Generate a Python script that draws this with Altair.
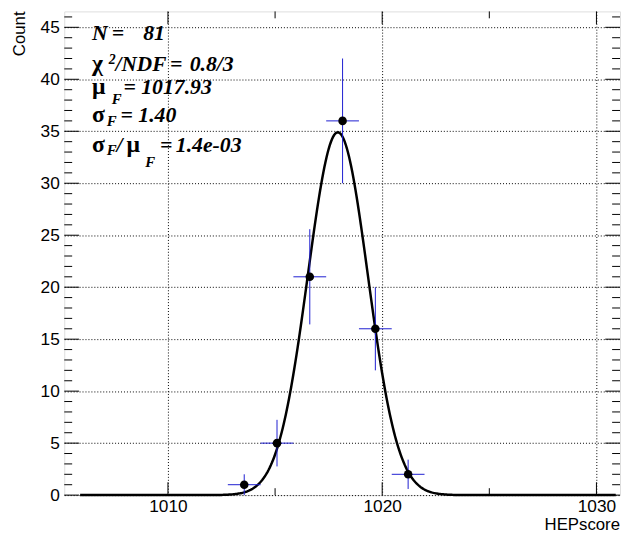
import altair as alt
import pandas as pd

# ---- data ----
bin_centers = [1013.56, 1015.09, 1016.62, 1018.15, 1019.68, 1021.21]
counts = [1, 5, 21, 36, 16, 2]
count_errors = [1.0, 2.24, 4.58, 6.0, 4.0, 1.41]
bin_half_width = 0.765

# Gaussian fit parameters (shown in the legend box)
fit_mu = 1017.93
fit_sigma = 1.40
fit_amp = 34.9
fit_range = [1005.9, 1030.9]

x_tick_labels = [1010, 1020, 1030]
x_tick_minor = [1015, 1025]
y_tick_labels = [0, 5, 10, 15, 20, 25, 30, 35, 40, 45]
y_tick_minor = [v for v in range(1, 47) if v % 5 != 0]

stat_pieces = ["N", "=", "81",
               "χ", "2", "/NDF", "=", "0.8/3",
               "μ", "F", "=", "1017.93",
               "σ", "F", "=", "1.40",
               "σ", "F", "/", "μ", "F", "=", "1.4e-03"]
greek = {"χ", "μ", "σ"}

# ---- layout ----
W, H = 563, 490
x_dom = [1005.16, 1031.1]
y_dom = [0, 46.53]
BLUE = "#1c1cd0"
SERIF = "Liberation Serif"
SANS = "Liberation Sans"

xs = alt.Scale(domain=x_dom, nice=False, zero=False)
ys = alt.Scale(domain=y_dom, nice=False, zero=False)
x_axis = alt.Axis(values=x_tick_labels, format="d", ticks=False, domain=False, grid=True,
                  gridDash=[1, 2], gridColor="#000", gridWidth=1,
                  labelFont=SANS, labelFontSize=17.5, labelColor="#000",
                  labelPadding=3, labelFlush=False, title=None)
y_axis = alt.Axis(values=y_tick_labels, format="d", ticks=False, domain=False, grid=True,
                  gridDash=[1, 2], gridColor="#000", gridWidth=1,
                  labelFont=SANS, labelFontSize=17.5, labelColor="#000",
                  labelPadding=5, title=None)

pts = pd.DataFrame({"x": bin_centers, "y": counts, "e": count_errors})
pts["ylo"] = pts["y"] - pts["e"]
pts["yhi"] = pts["y"] + pts["e"]
pts["xlo"] = pts["x"] - bin_half_width
pts["xhi"] = pts["x"] + bin_half_width

base = alt.Chart(pts)

curve = alt.Chart(
    alt.sequence(start=fit_range[0], stop=fit_range[1], step=0.05, as_="x")
).transform_calculate(
    y=f"{fit_amp} * exp(-0.5 * pow((datum.x - {fit_mu}) / {fit_sigma}, 2))"
).mark_line(color="black", strokeWidth=2.5).encode(
    x=alt.X("x:Q", scale=xs, axis=x_axis),
    y=alt.Y("y:Q", scale=ys, axis=y_axis),
)

ebar_v = base.mark_rule(color=BLUE, strokeWidth=1).encode(
    x=alt.X("x:Q", scale=xs, axis=x_axis),
    y=alt.Y("ylo:Q", scale=ys, axis=y_axis), y2="yhi:Q")
ebar_h = base.mark_rule(color=BLUE, strokeWidth=1).encode(
    x=alt.X("xlo:Q", scale=xs, axis=x_axis), x2="xhi:Q",
    y=alt.Y("y:Q", scale=ys, axis=y_axis))
dots = base.mark_circle(color="black", opacity=1, size=75).encode(
    x=alt.X("x:Q", scale=xs, axis=x_axis),
    y=alt.Y("y:Q", scale=ys, axis=y_axis))

layers = [curve, ebar_v, ebar_h, dots]

# inward ticks (ROOT style)
def xticks(vals, length):
    d = alt.Chart(pd.DataFrame({"t": vals}))
    bot = d.mark_rule(color="black", strokeWidth=1).encode(
        x=alt.X("t:Q", scale=xs, axis=x_axis), y=alt.value(H), y2=alt.value(H - length))
    top = d.mark_rule(color="black", strokeWidth=1).encode(
        x=alt.X("t:Q", scale=xs, axis=x_axis), y=alt.value(0), y2=alt.value(length))
    return [bot, top]

def yticks(vals, length):
    d = alt.Chart(pd.DataFrame({"t": vals}))
    left = d.mark_rule(color="black", strokeWidth=1).encode(
        y=alt.Y("t:Q", scale=ys, axis=y_axis), x=alt.value(0), x2=alt.value(length))
    right = d.mark_rule(color="black", strokeWidth=1).encode(
        y=alt.Y("t:Q", scale=ys, axis=y_axis), x=alt.value(W), x2=alt.value(W - length))
    return [left, right]

layers += xticks(x_tick_labels, 13) + xticks(x_tick_minor, 7)
layers += yticks(y_tick_labels, 15) + yticks(y_tick_minor, 8)

# statistics box text (page coords minus plot origin 65, 8)
ox, oy = 65, 8
placement = [  # (x, baseline y, size) for each entry of stat_pieces
    (93, 37, 22), (113, 37, 22), (145, 37, 22),
    (93, 68, 22), (110, 61, 14), (117, 68, 21.5), (172, 68, 22), (192, 68, 22),
    (93, 92, 22), (113, 102, 15), (125, 92, 22), (143, 92, 22),
    (93, 120, 22), (108, 124, 15), (122, 120, 22), (140, 120, 22),
    (93, 150, 22), (108, 153, 15), (118, 150, 22), (128, 150, 22), (147, 166, 15),
    (162, 150, 22), (178, 150, 22),
]
anchor = pd.DataFrame({"a": [0]})
for txt, (px, py, fs) in zip(stat_pieces, placement):
    is_greek = txt in greek
    layers.append(
        alt.Chart(anchor).mark_text(
            text=txt, font=SERIF,
            fontStyle="normal" if is_greek else "italic",
            fontWeight="bold",
            fontSize=fs + (2 if is_greek else 0), align="left",
            baseline="alphabetic", color="black"
        ).encode(x=alt.value(px - ox), y=alt.value(py - oy))
    )

# axis titles
layers.append(
    alt.Chart(anchor).mark_text(
        text="Count", font=SANS, fontSize=17, angle=270, align="right",
        baseline="alphabetic", color="black"
    ).encode(x=alt.value(-40), y=alt.value(0))
)
layers.append(
    alt.Chart(anchor).mark_text(
        text="HEPscore", font=SANS, fontSize=17, align="right",
        baseline="alphabetic", color="black"
    ).encode(x=alt.value(W), y=alt.value(525))
)

chart = alt.layer(*layers).properties(
    width=W, height=H,
    autosize=alt.AutoSizeParams(type="none"),
    padding={"left": 57, "top": 0, "right": 1, "bottom": 40},
).configure_view(stroke="black", strokeWidth=1).configure(background="white")

chart.save("out.html", embed_options={"renderer": "svg", "actions": False})
